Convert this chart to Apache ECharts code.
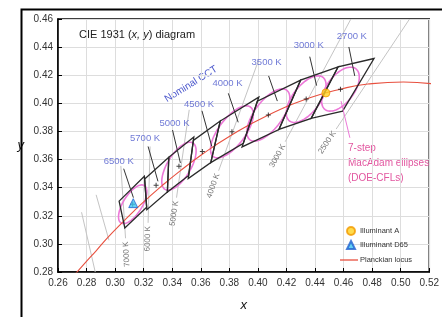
<!DOCTYPE html>
<html>
<head>
<meta charset="utf-8">
<script src="https://cdn.jsdelivr.net/npm/echarts@6/dist/echarts.min.js"></script>
<style>
  html, body { margin: 0; padding: 0; background: #fff; }
  #chart { width: 442px; height: 317px; }
</style>
</head>
<body>
<div id="chart"></div>
<script>
// Planckian locus (x, y)
var locusX = [0.2715, 0.2807, 0.2867, 0.2951, 0.3064, 0.3135, 0.3221, 0.3325, 0.3451, 0.3608, 0.3805, 0.4053, 0.4369, 0.4599, 0.4770, 0.5019, 0.5267];
var locusY = [0.2779, 0.2884, 0.2951, 0.3048, 0.3166, 0.3237, 0.3318, 0.3411, 0.3516, 0.3636, 0.3768, 0.3907, 0.4041, 0.4106, 0.4137, 0.4152, 0.4133];

// nominal CCT quadrangles: 4 corners each
var cctNames = ['2700 K', '3000 K', '3500 K', '4000 K', '4500 K', '5000 K', '5700 K', '6500 K'];
var quadCorners = [
    [0.4813, 0.4319, 0.4562, 0.4260, 0.4373, 0.3893, 0.4593, 0.3944],
    [0.4562, 0.4260, 0.4299, 0.4165, 0.4147, 0.3814, 0.4373, 0.3893],
    [0.4299, 0.4165, 0.3996, 0.4015, 0.3889, 0.3690, 0.4147, 0.3814],
    [0.4006, 0.4044, 0.3736, 0.3874, 0.3670, 0.3578, 0.3898, 0.3716],
    [0.3736, 0.3874, 0.3548, 0.3736, 0.3512, 0.3465, 0.3670, 0.3578],
    [0.3551, 0.3760, 0.3376, 0.3616, 0.3366, 0.3369, 0.3515, 0.3487],
    [0.3376, 0.3616, 0.3207, 0.3462, 0.3222, 0.3243, 0.3366, 0.3369],
    [0.3205, 0.3481, 0.3028, 0.3304, 0.3068, 0.3113, 0.3221, 0.3261]
];
var quadCenters = [[0.4578, 0.4101], [0.4338, 0.4030], [0.4073, 0.3917], [0.3818, 0.3797],
                   [0.3611, 0.3658], [0.3447, 0.3553], [0.3287, 0.3417], [0.3123, 0.3282]];
var cctLabelAt = [[0.4658, 0.4476], [0.4356, 0.4414], [0.4061, 0.4291], [0.3787, 0.4140],
                  [0.3588, 0.3995], [0.3416, 0.3858], [0.3210, 0.3748], [0.3025, 0.3590]];
var leaderFrom = [[0.4637, 0.4401], [0.4363, 0.4332], [0.4075, 0.4195], [0.3793, 0.4071],
                  [0.3608, 0.3947], [0.3402, 0.3810], [0.3231, 0.3693], [0.3060, 0.3535]];
var leaderTo = [[0.4678, 0.4195], [0.4411, 0.4126], [0.4136, 0.4016], [0.3862, 0.3865],
                [0.3677, 0.3693], [0.3457, 0.3576], [0.3300, 0.3445], [0.3128, 0.3329]];

// 7-step MacAdam ellipses (1-step a, b and angle in degrees)
var ellCenters = [[0.4578, 0.4101], [0.4338, 0.4030], [0.4073, 0.3917], [0.3818, 0.3797], [0.3447, 0.3553], [0.3123, 0.3282]];
var ellA = [0.00258, 0.00278, 0.00312, 0.00313, 0.00274, 0.00223];
var ellB = [0.00137, 0.00136, 0.00139, 0.00134, 0.00118, 0.00095];
var ellAngle = [53.7, 53.22, 54.0, 53.72, 59.62, 58.57];
var ellSteps = 7;
var ellLeader = [[0.4582, 0.4016], [0.4644, 0.3755]];

// iso-CCT lines: top end, bottom end (last two unlabeled)
var isoNames = ['2500 K', '3000 K', '4000 K', '5000 K', '6000 K', '7000 K', '', ''];
var isoTop = [[0.5062, 0.4600], [0.4651, 0.4600], [0.4006, 0.4311], [0.3519, 0.3954], [0.3245, 0.3693], [0.3040, 0.3555],
              [0.2867, 0.3349], [0.2765, 0.3225]];
var isoBottom = [[0.4548, 0.3817], [0.4191, 0.3727], [0.3725, 0.3521], [0.3430, 0.3329], [0.3231, 0.3150], [0.3073, 0.3040],
                 [0.2957, 0.3026], [0.2861, 0.2799]];

var illumA = [0.4476, 0.4074];
var illumD65 = [0.3127, 0.3290];

var blue = '#4b57cc';
var pink = '#ec78d8';

var myChart = echarts.init(document.getElementById('chart'));

var locusData = locusX.map(function (x, i) { return [x, locusY[i]]; });
var quadData = quadCorners.map(function (c, i) { return c.concat([i]); });
var ellData = ellCenters.map(function (c, i) { return [c[0], c[1], ellA[i], ellB[i], ellAngle[i]]; });
var isoData = isoTop.map(function (t, i) { return [t[0], t[1], isoBottom[i][0], isoBottom[i][1], i]; });
var leaderData = leaderFrom.map(function (f, i) { return { coords: [f, leaderTo[i]] }; });
var labelData = cctLabelAt.map(function (p, i) { return { value: p, name: cctNames[i] }; });

var option = {
    animation: false,
    backgroundColor: '#fff',
    title: {
        left: 74,
        top: 24,
        text: '{n|CIE 1931 (}{i|x, y}{n|) diagram}',
        textStyle: {
            rich: {
                n: { fontSize: 11, color: '#222', fontWeight: 'normal', fontFamily: 'Liberation Sans' },
                i: { fontSize: 11, color: '#222', fontWeight: 'normal', fontStyle: 'italic', fontFamily: 'Liberation Sans' }
            }
        }
    },
    legend: [
        {
            orient: 'vertical',
            left: 346,
            top: 226,
            padding: 0,
            itemWidth: 8,
            itemHeight: 8,
            itemGap: 4,
            data: ['Illuminant A', 'Illuminant D65'],
            textStyle: { fontSize: 7.5, color: '#333', fontFamily: 'Liberation Sans' }
        },
        {
            left: 340,
            top: 256,
            padding: 0,
            itemWidth: 18,
            itemHeight: 1.3,
            icon: 'rect',
            data: ['Planckian locus'],
            textStyle: { fontSize: 7.5, color: '#333', fontFamily: 'Liberation Sans', padding: [0, 0, 0, -3] }
        }
    ],
    grid: {
        left: 58,
        right: 5,
        top: 19,
        bottom: 37,
        show: true,
        borderColor: '#000',
        borderWidth: 1.5
    },
    xAxis: {
        type: 'value',
        min: 0.26,
        max: 0.52,
        interval: 0.02,
        name: 'x',
        nameLocation: 'middle',
        nameGap: 27,
        nameTextStyle: { fontSize: 13, fontStyle: 'italic', color: '#111', fontFamily: 'Liberation Sans' },
        axisLine: { lineStyle: { color: '#000', width: 1.5 } },
        axisTick: { inside: true, length: 4, lineStyle: { color: '#000' } },
        axisLabel: {
            margin: 6,
            fontSize: 10,
            color: '#333',
            fontFamily: 'Liberation Sans',
            formatter: function (v) { return v.toFixed(2); }
        },
        splitLine: { lineStyle: { color: '#ddd' } }
    },
    yAxis: {
        type: 'value',
        min: 0.28,
        max: 0.46,
        interval: 0.02,
        name: 'y',
        nameLocation: 'middle',
        nameGap: 34,
        nameRotate: 0,
        nameTextStyle: { fontSize: 13, fontStyle: 'italic', color: '#111', fontFamily: 'Liberation Sans' },
        axisLine: { lineStyle: { color: '#000', width: 1.5 } },
        axisTick: { inside: true, length: 4, lineStyle: { color: '#000' } },
        axisLabel: {
            margin: 5,
            fontSize: 10,
            color: '#333',
            fontFamily: 'Liberation Sans',
            formatter: function (v) { return v.toFixed(2); }
        },
        splitLine: { lineStyle: { color: '#ddd' } }
    },
    series: [
        {
            // iso-CCT lines with their labels
            type: 'custom',
            silent: true,
            z: 1,
            clip: true,
            data: isoData,
            renderItem: function (params, api) {
                var p1 = api.coord([api.value(0), api.value(1)]);
                var p2 = api.coord([api.value(2), api.value(3)]);
                var dx = p1[0] - p2[0], dy = p1[1] - p2[1];
                var len = Math.sqrt(dx * dx + dy * dy);
                var ux = dx / len, uy = dy / len;
                return {
                    type: 'group',
                    children: [
                        {
                            type: 'line',
                            shape: { x1: p1[0], y1: p1[1], x2: p2[0], y2: p2[1] },
                            style: { stroke: '#c4c4c4', lineWidth: 1 }
                        },
                        {
                            type: 'text',
                            x: p2[0] - ux * 16,
                            y: p2[1] - uy * 16,
                            rotation: Math.atan2(-dy, dx),
                            style: {
                                text: isoNames[api.value(4)],
                                align: 'center',
                                verticalAlign: 'middle',
                                fill: '#777',
                                font: '8px "Liberation Sans"'
                            }
                        }
                    ]
                };
            }
        },
        {
            // MacAdam ellipses
            type: 'custom',
            silent: true,
            z: 2,
            data: ellData,
            renderItem: function (params, api) {
                var cx = api.value(0), cy = api.value(1);
                var a = api.value(2) * ellSteps, b = api.value(3) * ellSteps;
                var th = api.value(4) * Math.PI / 180;
                var pts = [];
                for (var k = 0; k < 72; k++) {
                    var t = k / 72 * Math.PI * 2;
                    var ex = cx + a * Math.cos(t) * Math.cos(th) - b * Math.sin(t) * Math.sin(th);
                    var ey = cy + a * Math.cos(t) * Math.sin(th) + b * Math.sin(t) * Math.cos(th);
                    pts.push(api.coord([ex, ey]));
                }
                return {
                    type: 'polygon',
                    shape: { points: pts },
                    style: { fill: 'none', stroke: pink, lineWidth: 1.6 }
                };
            }
        },
        {
            name: 'Planckian locus',
            type: 'line',
            smooth: true,
            showSymbol: false,
            symbol: 'none',
            z: 3,
            data: locusData,
            lineStyle: { color: '#e8503f', width: 1.1 },
            itemStyle: { color: '#e8503f' }
        },
        {
            // quadrangles
            type: 'custom',
            silent: true,
            z: 4,
            data: quadData,
            renderItem: function (params, api) {
                var pts = [];
                for (var k = 0; k < 4; k++) {
                    pts.push(api.coord([api.value(2 * k), api.value(2 * k + 1)]));
                }
                return {
                    type: 'polygon',
                    shape: { points: pts },
                    style: { fill: 'none', stroke: '#2a2a2a', lineWidth: 1.3 }
                };
            }
        },
        {
            // quadrangle centres
            type: 'scatter',
            silent: true,
            z: 5,
            symbol: 'path://M4,0h2v10h-2zM0,4h10v2h-10z',
            symbolSize: 5,
            itemStyle: { color: '#111' },
            data: quadCenters
        },
        {
            // leader lines to the CCT labels
            type: 'lines',
            coordinateSystem: 'cartesian2d',
            silent: true,
            z: 5,
            lineStyle: { color: '#333', width: 1, opacity: 1 },
            data: leaderData.concat([{ coords: ellLeader, lineStyle: { color: pink, width: 1 } }])
        },
        {
            // CCT labels
            type: 'scatter',
            silent: true,
            z: 6,
            symbolSize: 0,
            data: labelData,
            label: {
                show: true,
                position: 'inside',
                formatter: '{b}',
                color: blue,
                fontSize: 9.5,
                fontFamily: 'Liberation Sans'
            }
        },
        {
            name: 'Illuminant A',
            type: 'scatter',
            z: 7,
            symbol: 'circle',
            symbolSize: 8,
            itemStyle: { color: '#ffd21f', borderColor: '#f29a00', borderWidth: 1 },
            data: [illumA]
        },
        {
            name: 'Illuminant D65',
            type: 'scatter',
            z: 7,
            symbol: 'triangle',
            symbolSize: 9,
            itemStyle: { color: '#3fc6f0', borderColor: '#2060d0', borderWidth: 1 },
            data: [illumD65]
        }
    ],
    graphic: [
        {
            type: 'text',
            left: 163,
            top: 64,
            rotation: 32 * Math.PI / 180,
            style: { text: 'Nominal CCT', fill: blue, font: '10px "Liberation Sans"' }
        },
        {
            type: 'text',
            left: 348,
            top: 141,
            style: {
                text: '7-step\nMacAdam ellipses\n(DOE-CFLs)',
                fill: '#e2559f',
                font: '10px "Liberation Sans"',
                lineHeight: 15
            }
        },
        {
            type: 'rect',
            left: 19,
            top: 7,
            z: 100,
            shape: { width: 600, height: 600 },
            style: { fill: 'none', stroke: '#000', lineWidth: 2 }
        }
    ]
};

myChart.setOption(option);
window.onresize = function () {
    myChart.resize();
};
</script>
</body>
</html>
